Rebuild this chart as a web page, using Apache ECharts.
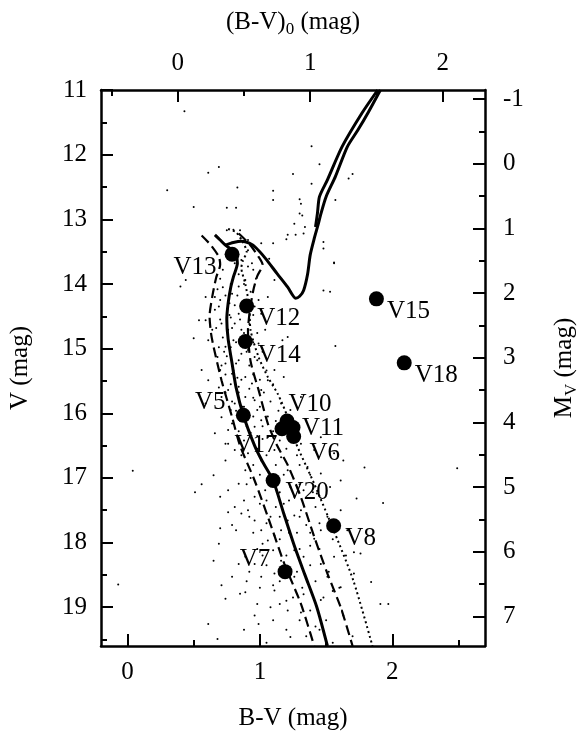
<!DOCTYPE html>
<html>
<head>
<meta charset="utf-8">
<script src="https://cdn.jsdelivr.net/npm/echarts@6/dist/echarts.min.js"></script>
<style>
html, body { margin: 0; padding: 0; background: #fff; }
#cmd { width: 588px; height: 738px; }
</style>
</head>
<body>
<div id="cmd"></div>
<script>
// axis ranges
var bvRange = [-0.2, 2.7];
var vRange = [11, 19.6];
var ebv = 0.38;     // B-V minus (B-V)0
var dmod = 12.14;   // V minus M_V

var bvTicks = [0, 1, 2];
var bvMinor = [0.5, 1.5, 2.5];
var bv0Ticks = [0, 1, 2];
var bv0Minor = [-0.5, 0.5, 1.5];
var vTicks = [11, 12, 13, 14, 15, 16, 17, 18, 19];
var vMinor = [11.5, 12.5, 13.5, 14.5, 15.5, 16.5, 17.5, 18.5, 19.5];
var mvTicks = [-1, 0, 1, 2, 3, 4, 5, 6, 7];
var mvMinor = [-0.5, 0.5, 1.5, 2.5, 3.5, 4.5, 5.5, 6.5];

// isochrones [B-V, V]
var isoMS = [[1.51,19.6],[1.43,19.0],[1.34,18.5],[1.26,18.05],[1.18,17.55],[1.10,17.04],[1.02,16.75],[0.96,16.5],[0.875,16.03],[0.82,15.6],[0.79,15.23],[0.76,14.85],[0.75,14.55],[0.76,14.3],[0.78,14.05],[0.80,13.89],[0.83,13.68],[0.82,13.55],[0.78,13.46],[0.74,13.40],[0.70,13.32],[0.66,13.24]];
var isoUpper = [[0.74,13.40],[0.80,13.36],[0.86,13.34],[0.92,13.37],[0.97,13.44],[1.04,13.60],[1.13,13.84],[1.21,14.05],[1.27,14.22],[1.30,14.19],[1.33,14.10],[1.36,13.85],[1.38,13.55],[1.41,13.30],[1.44,13.08],[1.46,12.92],[1.50,12.65],[1.57,12.34],[1.66,11.88],[1.74,11.62],[1.82,11.34],[1.91,11.0]];
var isoLoop = [[1.42,13.12],[1.435,12.9],[1.45,12.65],[1.51,12.39],[1.62,11.88],[1.77,11.36],[1.89,11.0]];
var isoDashL = [[0.56,13.25],[0.63,13.40],[0.69,13.58],[0.70,13.70],[0.67,13.90],[0.64,14.2],[0.62,14.5],[0.63,14.75],[0.65,14.97],[0.71,15.49],[0.79,16.06],[0.85,16.5],[0.96,17.04],[1.06,17.6],[1.185,18.33],[1.31,18.95],[1.41,19.6]];
var isoDashR = [[0.84,13.22],[0.92,13.38],[0.99,13.58],[1.02,13.70],[0.98,13.88],[0.95,14.1],[0.925,14.4],[0.91,14.72],[0.93,15.2],[0.99,15.64],[1.06,16.16],[1.13,16.5],[1.21,16.8],[1.31,17.30],[1.41,17.91],[1.51,18.48],[1.61,19.0],[1.70,19.6]];
var isoDot = [[0.76,13.15],[0.82,13.2],[0.87,13.35],[0.90,13.5],[0.87,13.65],[0.86,13.75],[0.89,14.0],[0.92,14.35],[0.93,14.72],[0.99,15.13],[1.06,15.44],[1.135,15.7],[1.21,16.06],[1.27,16.45],[1.41,17.09],[1.557,17.81],[1.706,18.59],[1.85,19.6]];

// variable stars
var varNames = ['V13','V12','V14','V15','V18','V5','V10','V11','V6','V17','V20','V8','V7'];
var varBV = [0.79, 0.90, 0.89, 1.88, 2.09, 0.875, 1.205, 1.25, 1.255, 1.167, 1.10, 1.557, 1.19];
var varV = [13.54, 14.34, 14.89, 14.23, 15.22, 16.03, 16.12, 16.22, 16.36, 16.24, 17.04, 17.74, 18.45];

// field stars [B-V, V]
var field = [
  [0.43,11.33],[1.39,11.87],[1.45,12.15],[0.69,12.19],[0.61,12.28],[1.25,12.30],[1.39,12.45],[0.83,12.51],
  [0.30,12.55],[1.10,12.56],[1.10,12.70],[1.30,12.69],[1.31,12.76],[1.57,12.70],[1.67,12.37],[1.70,12.30],
  [0.50,12.81],[0.75,12.82],[0.82,12.82],[1.30,12.91],[1.32,12.94],[1.26,13.07],[1.34,13.12],[1.33,13.22],
  [1.27,13.24],[1.20,13.31],[1.01,13.37],[1.48,13.35],[1.48,13.45],[1.56,13.67],[0.75,13.17],[0.80,13.16],
  [0.85,13.17],[0.91,13.32],[1.07,13.61],
  [0.81,13.68],[0.86,13.63],[0.91,13.73],[0.94,13.68],[0.89,13.94],[0.84,14.04],[0.79,14.15],[0.77,14.30],
  [0.84,14.46],[0.81,14.61],[0.86,14.71],[0.80,14.87],[0.76,14.71],[0.74,14.97],[0.71,14.61],[0.69,14.35],
  [0.66,14.20],[0.64,14.71],[0.61,14.87],[0.68,15.13],[0.70,15.33],[0.74,15.23],[0.79,15.39],[0.82,15.23],
  [0.86,15.08],[0.91,15.02],[0.96,15.13],[0.99,14.92],[1.04,14.71],[1.01,14.46],[0.96,14.35],[1.06,14.20],
  [1.11,13.94],[0.89,15.44],[0.94,15.54],[0.84,15.59],[0.76,15.64],[0.71,15.75],[0.81,15.85],[0.89,15.75],
  [0.96,15.80],[1.01,15.64],[1.06,15.49],[1.11,15.33],[0.91,16.00],[0.96,16.21],[1.01,16.11],[1.06,16.37],
  [0.76,16.26],[0.71,16.06],[0.74,16.47],[0.79,16.16],[0.61,15.49],[0.56,15.33],[0.59,15.85],[0.66,16.31],
  [1.18,15.44],[1.21,14.82],[1.17,14.87],[1.57,14.96],[1.48,14.10],[1.53,14.12],[1.56,13.68],[0.59,14.56],
  [0.54,14.56],[0.50,14.84],[0.40,14.04],[0.59,14.20],[1.10,13.37],[1.21,13.24],[0.91,13.48],[0.89,13.32],
  [0.44,13.94],[1.23,15.95],[1.31,15.75],[1.16,15.85],[0.72,14.05],[0.78,14.52],[0.88,14.95],[0.73,15.05],
  [0.83,15.45],[0.87,15.9],[0.93,16.3],[0.78,15.95],[0.69,15.6],[0.98,15.95],[1.02,16.4],
  [0.72,13.78],[0.95,13.78],[0.84,13.85],[0.70,13.92],[0.97,13.92],[0.78,14.0],[0.88,14.0],[0.68,14.08],
  [0.93,14.12],[0.74,14.18],[0.83,14.18],[0.70,14.25],[0.99,14.25],[0.81,14.33],[0.66,14.4],[0.88,14.4],
  [0.77,14.48],[0.95,14.48],[0.70,14.55],[0.85,14.55],[0.92,14.62],[0.67,14.68],[0.79,14.68],[0.88,14.76],
  [0.98,14.76],[0.72,14.83],[0.82,14.9],[0.95,14.9],[0.69,14.98],[0.78,14.98],[0.90,15.05],[1.02,15.05],
  [0.75,15.12],[0.84,15.18],[0.98,15.18],[0.71,15.26],[0.92,15.26],[0.80,15.34],[1.05,15.34],[0.74,15.4],
  [0.95,15.4],[0.86,15.48],[1.00,15.48],[0.78,15.55],[1.10,15.55],[0.92,15.62],[0.74,15.68],[0.84,15.68],
  [1.03,15.68],[0.95,15.76],[0.79,15.82],[1.08,15.82],[0.88,15.9],[1.00,15.9],[0.82,15.96],[1.14,15.96],
  [0.95,16.05],[1.06,16.05],[0.85,16.12],[1.12,16.12],[0.90,16.2],[1.02,16.2],[0.84,16.28],[1.10,16.28],
  [0.98,16.35],[0.88,16.42],[1.15,16.42],
  [0.98,16.55],[1.20,16.55],[0.86,16.65],[1.05,16.65],[1.28,16.65],[0.95,16.8],[1.12,16.8],[1.30,16.8],
  [1.00,16.95],[1.18,16.95],[1.38,16.95],[0.90,17.1],[1.08,17.1],[1.30,17.1],[1.15,17.22],[1.40,17.22],
  [0.88,17.35],[1.05,17.35],[1.22,17.35],[1.12,17.45],[1.42,17.45],[0.92,17.6],[1.15,17.6],[1.30,17.6],
  [1.05,17.7],[1.45,17.7],[0.95,17.85],[1.22,17.85],[1.38,17.85],[1.15,17.95],[1.55,17.95],[0.98,18.1],
  [1.30,18.1],[1.45,18.1],[1.20,18.2],[1.65,18.2],[1.05,18.35],[1.38,18.35],[0.92,18.45],[1.28,18.45],
  [1.52,18.45],[1.15,18.6],[1.42,18.6],[1.00,18.7],[1.32,18.7],[1.60,18.7],[1.25,18.85],[1.48,18.85],
  [0.98,18.95],[1.15,18.95],[1.38,19.05],[1.62,19.05],[1.10,19.2],[1.30,19.2],[1.50,19.2],[0.88,19.35],
  [1.20,19.35],[1.45,19.35],[1.35,19.45],[1.70,19.45],[1.05,19.55],[1.55,19.55],
  [0.04,16.89],[-0.07,18.65],[2.49,16.85],[1.93,17.39],[1.91,18.95],[1.97,18.95],[1.84,18.61],[1.73,17.32],
  [1.79,16.84],[0.51,17.22],[0.56,17.10],[0.65,16.96],[0.61,19.26],[0.68,19.49],[0.74,18.87],[0.71,18.66],
  [0.85,18.79],[0.89,18.77],[0.96,19.13],[0.99,19.26],[1.10,18.66],[1.11,18.74],[1.21,19.05],[1.31,19.08],
  [1.46,18.89],[1.63,19.13],[1.23,19.46],[0.65,18.28],[0.69,18.02],[0.70,17.78],[0.79,17.73],[0.82,17.81],
  [0.76,17.53],[0.81,17.45],[0.86,17.55],[0.91,17.50],[0.96,17.66],[1.01,17.81],[1.02,18.02],[1.06,17.97],
  [1.11,17.89],[1.16,17.81],[1.21,17.66],[1.26,17.58],[1.31,17.50],[1.35,17.73],[1.41,17.94],[1.46,17.81],
  [1.51,17.60],[1.61,17.50],[1.66,17.81],[1.71,18.15],[1.76,18.17],[1.56,18.22],[1.46,18.33],[1.33,18.22],
  [1.26,18.12],[1.16,18.28],[1.10,18.12],[0.96,18.33],[0.89,18.22],[0.84,18.33],[0.79,18.53],[1.01,18.53],
  [1.11,18.48],[1.26,18.53],[1.36,18.61],[1.51,18.53],[1.61,18.69],[1.71,18.48],[0.96,17.29],[1.04,17.19],
  [1.14,17.24],[1.23,17.14],[1.33,17.19],[1.43,17.24],[1.53,17.14],[1.61,17.04],[1.46,16.93],[1.36,16.83],
  [1.21,16.88],[1.16,16.68],[1.11,16.57],[1.01,16.73],[0.91,16.62],[0.89,16.88],[0.81,16.57],[0.76,16.47],
  [0.74,16.73],[0.84,17.09],[0.76,17.19],[0.70,17.29],[1.63,16.73],[1.41,16.57],[1.31,16.47],[1.46,16.37],
  [1.56,16.62],[1.06,16.99],[1.26,17.29],[0.93,17.0],[1.0,17.4],[1.08,17.6],[1.18,17.4],[1.28,17.85],
  [1.38,18.05],[1.2,18.9],[1.33,18.8],[1.08,19.0],[0.9,18.6],[1.42,19.3],[1.55,18.75],[1.02,18.2]
];

var FONT = '"Times New Roman", "Liberation Serif", Times, serif';
var frameLine = { show: true, onZero: false, lineStyle: { color: '#000', width: 2.5 } };

function majorAxis(pos, min, max, ticks, extra) {
  var a = {
    type: 'value', position: pos, min: min, max: max,
    axisLine: frameLine,
    axisTick: { show: true, inside: true, length: 12, customValues: ticks, lineStyle: { color: '#000', width: 2 } },
    axisLabel: { show: true, customValues: ticks, fontFamily: FONT, fontSize: 25, color: '#000', margin: 14 },
    splitLine: { show: false },
    nameLocation: 'middle',
    nameTextStyle: { fontFamily: FONT, fontSize: 25, color: '#000' }
  };
  for (var k in extra) a[k] = extra[k];
  return a;
}
function minorAxis(pos, min, max, ticks, inv) {
  return {
    type: 'value', position: pos, min: min, max: max, inverse: !!inv,
    axisLine: { show: false, onZero: false },
    axisTick: { show: true, inside: true, length: 6, customValues: ticks, lineStyle: { color: '#000', width: 2 } },
    axisLabel: { show: false },
    splitLine: { show: false }
  };
}

var varData = varNames.map(function (n, i) { return { name: n, value: [varBV[i], varV[i]] }; });
// label placement of each variable (offset of label centre from the dot)
var labelOffset = {
  V13: [-37, 13], V12: [32, 13], V14: [34, 14], V15: [32, 13], V18: [32, 13], V5: [-33, -13],
  V10: [23, -17], V11: [30, 1], V6: [31, 17], V17: [-26, 17], V20: [34, 12], V8: [27, 13], V7: [-30, -12]
};
varData.forEach(function (d) {
  d.label = { show: true, position: 'inside', offset: labelOffset[d.name], formatter: d.name,
    fontFamily: FONT, fontSize: 25, color: '#000', opacity: 1 };
});

function isoSeries(data, type, width) {
  return {
    type: 'line', data: data, showSymbol: false, symbol: 'none', silent: true, smooth: 0.25,
    xAxisIndex: 0, yAxisIndex: 0,
    lineStyle: { color: '#000', width: width, type: type }
  };
}

var subStyle = { sub: { fontFamily: FONT, fontSize: 17, color: '#000', padding: [14, 0, 0, 0] } };

var chart = echarts.init(document.getElementById('cmd'), null, { renderer: 'canvas' });
var option = {
  animation: false,
  backgroundColor: '#fff',
  grid: { left: 101, right: 97, top: 90, bottom: 92, containLabel: false },
  xAxis: [
    majorAxis('bottom', bvRange[0], bvRange[1], bvTicks, { name: 'B-V (mag)', nameGap: 60 }),
    minorAxis('bottom', bvRange[0], bvRange[1], bvMinor),
    majorAxis('top', bvRange[0] - ebv, bvRange[1] - ebv, bv0Ticks, {
      name: '(B-V){sub|0} (mag)', nameGap: 52,
      nameTextStyle: { fontFamily: FONT, fontSize: 25, color: '#000', rich: subStyle }
    }),
    minorAxis('top', bvRange[0] - ebv, bvRange[1] - ebv, bv0Minor)
  ],
  yAxis: [
    majorAxis('left', vRange[0], vRange[1], vTicks, { inverse: true, name: 'V (mag)', nameGap: 68, nameRotate: 90 }),
    minorAxis('left', vRange[0], vRange[1], vMinor, true),
    majorAxis('right', vRange[0] - dmod, vRange[1] - dmod, mvTicks, {
      inverse: true, name: 'M{sub|V} (mag)', nameGap: 64, nameRotate: 90,
      axisLabel: { show: true, customValues: mvTicks, fontFamily: FONT, fontSize: 25, color: '#000', margin: 18 },
      nameTextStyle: { fontFamily: FONT, fontSize: 25, color: '#000', rich: subStyle }
    }),
    minorAxis('right', vRange[0] - dmod, vRange[1] - dmod, mvMinor, true)
  ],
  series: [
    { type: 'scatter', data: field, symbolSize: 2, silent: true, xAxisIndex: 0, yAxisIndex: 0,
      itemStyle: { color: '#000', opacity: 1 } },
    isoSeries(isoDashL, [10, 5], 2.2),
    isoSeries(isoDashR, [10, 5], 2.2),
    isoSeries(isoDot, [2, 3], 2),
    isoSeries(isoMS, 'solid', 3),
    isoSeries(isoUpper, 'solid', 3),
    isoSeries(isoLoop, 'solid', 3),
    { type: 'scatter', data: varData, symbolSize: 15, xAxisIndex: 0, yAxisIndex: 0, z: 5,
      itemStyle: { color: '#000', opacity: 1 } }
  ]
};
chart.setOption(option);
</script>
</body>
</html>
